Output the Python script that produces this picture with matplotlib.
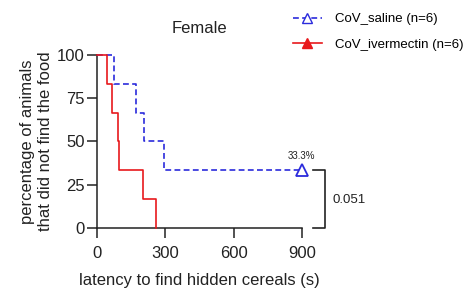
import matplotlib.pyplot as plt
from matplotlib.lines import Line2D

plt.rcParams['font.family'] = ['Liberation Sans', 'DejaVu Sans']

# survival curves (time in s, % not found)
saline_t = [0, 75, 173, 206, 293, 900]
saline_y = [100, 83.3, 66.7, 50, 33.3, 33.3]
iver_t = [0, 46, 68, 92, 97, 202, 258]
iver_y = [100, 83.3, 66.7, 50, 33.3, 16.7, 0]

xticks = [0, 300, 600, 900]
yticks = [0, 25, 50, 75, 100]
p_value = '0.051'
end_label = '33.3%'

fig = plt.figure(figsize=(4.65, 2.88), dpi=100)
ax = fig.add_axes([0.2086, 0.2094, 0.4405, 0.5996])

ax.step(saline_t, saline_y, where='post', color='#2b2bdc', lw=1.2,
        linestyle=(0, (3.5, 2)), clip_on=False, zorder=3)
ax.step(iver_t, iver_y, where='post', color='#e8191c', lw=1.2,
        clip_on=False, zorder=3)
ax.plot([saline_t[-1]], [saline_y[-1]], marker='^', ms=8, mfc='white',
        mec='#2b2bdc', mew=1.3, clip_on=False, zorder=4)
ax.text(saline_t[-1], saline_y[-1] + 5.5, end_label, ha='center', va='bottom',
        fontsize=7, color='#222222')

ax.set_xlim(0, 900)
ax.set_ylim(0, 100)
ax.set_xticks(xticks)
ax.set_yticks(yticks)
for s in ['top', 'right']:
    ax.spines[s].set_visible(False)
for s in ['left', 'bottom']:
    ax.spines[s].set_linewidth(1.1)
    ax.spines[s].set_color('#222222')
ax.tick_params(direction='out', length=7, width=1.1, labelsize=12,
               colors='#222222', pad=2)
ax.tick_params(axis='x', pad=6)

ax.set_xlabel('latency to find hidden cereals (s)', fontsize=12,
              color='#222222', labelpad=9)
ax.set_ylabel('percentage of animals\nthat did not find the food',
              fontsize=12, color='#222222', labelpad=3, linespacing=1.25)
ax.set_title('Female', fontsize=12, color='#222222', pad=16)

# significance bracket
bx0, bx1 = 1.055, 1.115
br = Line2D([bx0, bx1, bx1, bx0], [33.3, 33.3, 0, 0], color='#222222', lw=1.2,
            transform=ax.get_yaxis_transform(), clip_on=False)
ax.add_line(br)
ax.text(1.15, 16.0, p_value, transform=ax.get_yaxis_transform(),
        ha='left', va='center', fontsize=9.5, color='#222222')

handles = [
    Line2D([], [], color='#2b2bdc', lw=1.2, linestyle=(0, (3.5, 2)), marker='^',
           ms=7, mfc='white', mec='#2b2bdc'),
    Line2D([], [], color='#e8191c', lw=1.2, marker='^', ms=7, mfc='#e8191c',
           mec='#e8191c'),
]
fig.legend(handles, ['CoV_saline (n=6)', 'CoV_ivermectin (n=6)'],
           loc='upper left', bbox_to_anchor=(0.601, 1.0), frameon=False,
           fontsize=9.5, handlelength=2.2, labelspacing=1.0, handletextpad=1.0,
           borderaxespad=0.6)

fig.savefig('out.png', dpi=100)
